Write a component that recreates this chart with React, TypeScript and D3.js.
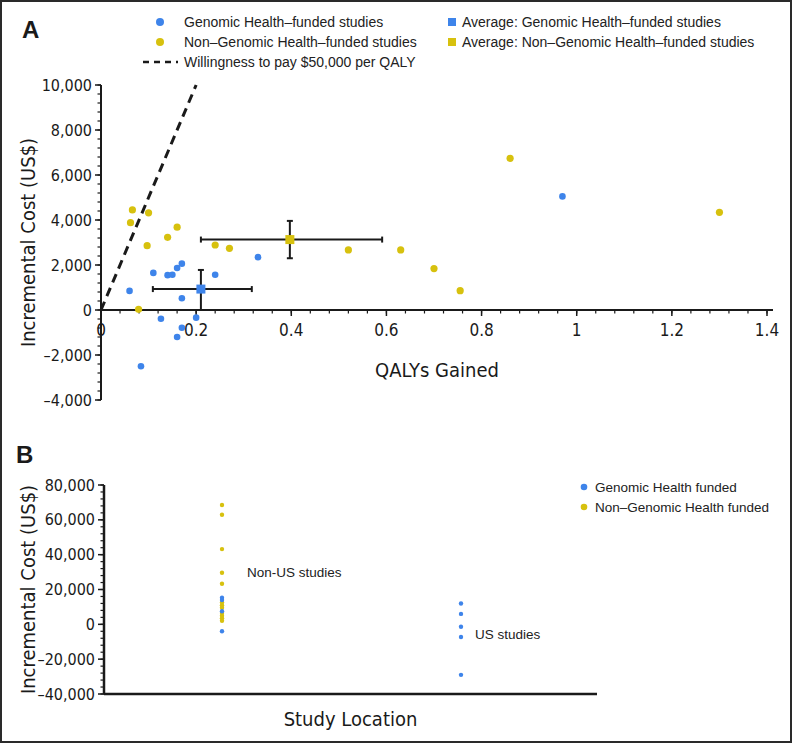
import React from "react";
import * as d3 from "d3";

// ---------- Panel A data ----------
const ghQaly = [0.06, 0.11, 0.14, 0.15, 0.16, 0.17, 0.24, 0.33, 0.17, 0.126, 0.2, 0.17, 0.16, 0.084, 0.97];
const ghCost = [850, 1650, 1550, 1570, 1870, 2060, 1570, 2350, 520, -390, -340, -790, -1200, -2500, 5050];
const nonQaly = [0.066, 0.062, 0.1, 0.097, 0.14, 0.16, 0.24, 0.27, 0.079, 0.52, 0.63, 0.7, 0.755, 0.86, 1.3];
const nonCost = [4450, 3880, 4320, 2860, 3230, 3680, 2890, 2740, 30, 2670, 2670, 1840, 860, 6740, 4340];

const avgGh = { qaly: 0.21, qalyLo: 0.109, qalyHi: 0.317, cost: 930, costLo: 0, costHi: 1780 };
const avgNon = { qaly: 0.397, qalyLo: 0.21, qalyHi: 0.591, cost: 3130, costLo: 2300, costHi: 3960 };
const wtpPerQaly = 50000;

const xTicksA = [0, 0.2, 0.4, 0.6, 0.8, 1, 1.2, 1.4];
const xTickLabelsA = ["0", "0.2", "0.4", "0.6", "0.8", "1", "1.2", "1.4"];
const yTicksA = [-4000, -2000, 0, 2000, 4000, 6000, 8000, 10000];

// ---------- Panel B data ----------
const locations = ["Non-US", "US"];
const locationLabels = ["Non-US studies", "US studies"];
const nonUsGh = [15300, 14000, 7500, -4000];
const nonUsNon = [68500, 62900, 43200, 29600, 23300, 12500, 11000, 9500, 6500, 5000, 3500, 2000];
const usGh = [12000, 6000, -1400, -7300, -29000];
const yTicksB = [-40000, -20000, 0, 20000, 40000, 60000, 80000];

const BLUE = "#3e84ea";
const YELLOW = "#d7c10e";
const INK = "#1a1a1a";
const NARROW = "'Liberation Sans Narrow', 'DejaVu Sans Condensed', 'Arial Narrow', sans-serif";
const SANS = "'Liberation Sans', Arial, Helvetica, sans-serif";

const fmt = (v: number) => (v < 0 ? "\u2013" + d3.format(",")(-v) : d3.format(",")(v));

export default function App() {
  // Panel A scales
  const x = d3.scaleLinear().domain([0, 1.4]).range([101, 767]);
  const y = d3.scaleLinear().domain([-4000, 10000]).range([400, 85]);
  const xMinor = d3.range(0, 1.4001, 0.04);
  const yMinor = d3.range(-4000, 10001, 400);

  // Panel B scales
  const xb = d3.scalePoint<string>().domain(locations).range([222, 461]);
  const yb = d3.scaleLinear().domain([-40000, 80000]).range([694, 485]);
  const ybMinor = d3.range(-40000, 80001, 4000);
  const bLeft = 104;
  const bRight = 597;

  const errBar = (a: typeof avgGh, color: string) => {
    const cx = x(a.qaly);
    const cy = y(a.cost);
    const cap = 3;
    return (
      <g>
        <line x1={x(a.qalyLo)} x2={x(a.qalyHi)} y1={cy} y2={cy} stroke={INK} strokeWidth={2} />
        <line x1={x(a.qalyLo)} x2={x(a.qalyLo)} y1={cy - cap} y2={cy + cap} stroke={INK} strokeWidth={2} />
        <line x1={x(a.qalyHi)} x2={x(a.qalyHi)} y1={cy - cap} y2={cy + cap} stroke={INK} strokeWidth={2} />
        <line x1={cx} x2={cx} y1={y(a.costLo)} y2={y(a.costHi)} stroke={INK} strokeWidth={2} />
        <line x1={cx - cap} x2={cx + cap} y1={y(a.costLo)} y2={y(a.costLo)} stroke={INK} strokeWidth={2} />
        <line x1={cx - cap} x2={cx + cap} y1={y(a.costHi)} y2={y(a.costHi)} stroke={INK} strokeWidth={2} />
        <rect x={cx - 4.5} y={cy - 4.5} width={9} height={9} fill={color} />
      </g>
    );
  };

  const wtpX = 10000 / wtpPerQaly;

  return (
    <svg width={792} height={743} style={{ position: "absolute", left: 0, top: 0, background: "#fff" }}>
      <rect x={1} y={1} width={790} height={741} fill="#fff" stroke="#2a2a2a" strokeWidth={2} />

      {/* ---------- Panel A ---------- */}
      <text x={22} y={38} fontFamily={SANS} fontWeight="bold" fontSize={24} fill={INK}>A</text>

      {/* legend A */}
      <g fontFamily={SANS} fontSize={14} fill="#222">
        <circle cx={160} cy={22} r={4} fill={BLUE} />
        <text x={184} y={27}>Genomic Health–funded studies</text>
        <circle cx={160} cy={42} r={4} fill={YELLOW} />
        <text x={184} y={47}>Non–Genomic Health–funded studies</text>
        <line x1={143} x2={178} y1={62} y2={62} stroke={INK} strokeWidth={2.5} strokeDasharray="6,5" />
        <text x={184} y={67}>Willingness to pay $50,000 per QALY</text>
        <rect x={448} y={18} width={8} height={8} fill={BLUE} />
        <text x={462} y={27}>Average: Genomic Health–funded studies</text>
        <rect x={448} y={38} width={8} height={8} fill={YELLOW} />
        <text x={462} y={47}>Average: Non–Genomic Health–funded studies</text>
      </g>

      {/* axes A */}
      <line x1={x(0)} x2={x(0)} y1={y(10000)} y2={y(-4000)} stroke={INK} strokeWidth={2} />
      <line x1={x(0)} x2={773} y1={y(0)} y2={y(0)} stroke={INK} strokeWidth={2} />
      {yMinor.map((v) => (
        <line key={"ym" + v} x1={x(0) - 3.5} x2={x(0)} y1={y(v)} y2={y(v)} stroke={INK} strokeWidth={1.2} />
      ))}
      {yTicksA.map((v) => (
        <g key={"yt" + v}>
          <line x1={x(0) - 6} x2={x(0)} y1={y(v)} y2={y(v)} stroke={INK} strokeWidth={1.5} />
          <text x={x(0) - 9} y={y(v) + 5.5} textAnchor="end" fontFamily={NARROW} fontSize={16} fill={INK}>{fmt(v)}</text>
        </g>
      ))}
      {xMinor.map((v) => (
        <line key={"xm" + v} x1={x(v)} x2={x(v)} y1={y(0)} y2={y(0) + 3.5} stroke={INK} strokeWidth={1.2} />
      ))}
      {xTicksA.map((v, i) => (
        <g key={"xt" + v}>
          <line x1={x(v)} x2={x(v)} y1={y(0)} y2={y(0) + 6} stroke={INK} strokeWidth={1.5} />
          <text x={x(v)} y={y(0) + 26} textAnchor="middle" fontFamily={NARROW} fontSize={17} fill={INK}>{xTickLabelsA[i]}</text>
        </g>
      ))}
      <text x={437} y={377} textAnchor="middle" fontFamily={NARROW} fontSize={20} fill={INK}>QALYs Gained</text>
      <text transform={`translate(35,${(y(10000) + y(-4000)) / 2}) rotate(-90)`} textAnchor="middle" fontFamily={NARROW} fontSize={20} fill={INK}>Incremental Cost (US$)</text>

      {/* WTP line */}
      <line x1={x(0)} y1={y(0)} x2={x(wtpX)} y2={y(10000)} stroke={INK} strokeWidth={3} strokeDasharray="9,6" />

      {/* points A */}
      {ghQaly.map((q, i) => (
        <circle key={"g" + i} cx={x(q)} cy={y(ghCost[i])} r={3.3} fill={BLUE} />
      ))}
      {nonQaly.map((q, i) => (
        <circle key={"n" + i} cx={x(q)} cy={y(nonCost[i])} r={3.6} fill={YELLOW} />
      ))}
      {errBar(avgGh, BLUE)}
      {errBar(avgNon, YELLOW)}

      {/* ---------- Panel B ---------- */}
      <text x={16} y={463} fontFamily={SANS} fontWeight="bold" fontSize={24} fill={INK}>B</text>

      <g fontFamily={SANS} fontSize={13.5} fill="#222">
        <circle cx={584} cy={487} r={3.3} fill={BLUE} />
        <text x={595} y={492}>Genomic Health funded</text>
        <circle cx={584} cy={507} r={3.3} fill={YELLOW} />
        <text x={595} y={512}>Non–Genomic Health funded</text>
      </g>

      <line x1={bLeft} x2={bLeft} y1={yb(80000)} y2={yb(-40000)} stroke={INK} strokeWidth={2.5} />
      <line x1={bLeft} x2={bRight} y1={yb(-40000)} y2={yb(-40000)} stroke={INK} strokeWidth={2.5} />
      {ybMinor.map((v) => (
        <line key={"ybm" + v} x1={bLeft - 3.5} x2={bLeft} y1={yb(v)} y2={yb(v)} stroke={INK} strokeWidth={1.2} />
      ))}
      {yTicksB.map((v) => (
        <g key={"ybt" + v}>
          <line x1={bLeft - 6} x2={bLeft} y1={yb(v)} y2={yb(v)} stroke={INK} strokeWidth={1.5} />
          <text x={bLeft - 9} y={yb(v) + 5.5} textAnchor="end" fontFamily={NARROW} fontSize={16} fill={INK}>{fmt(v)}</text>
        </g>
      ))}
      <text x={(bLeft + bRight) / 2} y={726} textAnchor="middle" fontFamily={NARROW} fontSize={20} fill={INK}>Study Location</text>
      <text transform={`translate(35,${(yb(80000) + yb(-40000)) / 2}) rotate(-90)`} textAnchor="middle" fontFamily={NARROW} fontSize={20} fill={INK}>Incremental Cost (US$)</text>

      {nonUsNon.map((v, i) => (
        <circle key={"bn" + i} cx={xb("Non-US")} cy={yb(v)} r={2.2} fill={YELLOW} />
      ))}
      {nonUsGh.map((v, i) => (
        <circle key={"bg" + i} cx={xb("Non-US")} cy={yb(v)} r={2.2} fill={BLUE} />
      ))}
      {usGh.map((v, i) => (
        <circle key={"bu" + i} cx={xb("US")} cy={yb(v)} r={2.2} fill={BLUE} />
      ))}
      <g fontFamily={SANS} fontSize={13.5} fill="#222">
        <text x={(xb("Non-US") as number) + 25} y={577}>{locationLabels[0]}</text>
        <text x={(xb("US") as number) + 14} y={639}>{locationLabels[1]}</text>
      </g>
    </svg>
  );
}
